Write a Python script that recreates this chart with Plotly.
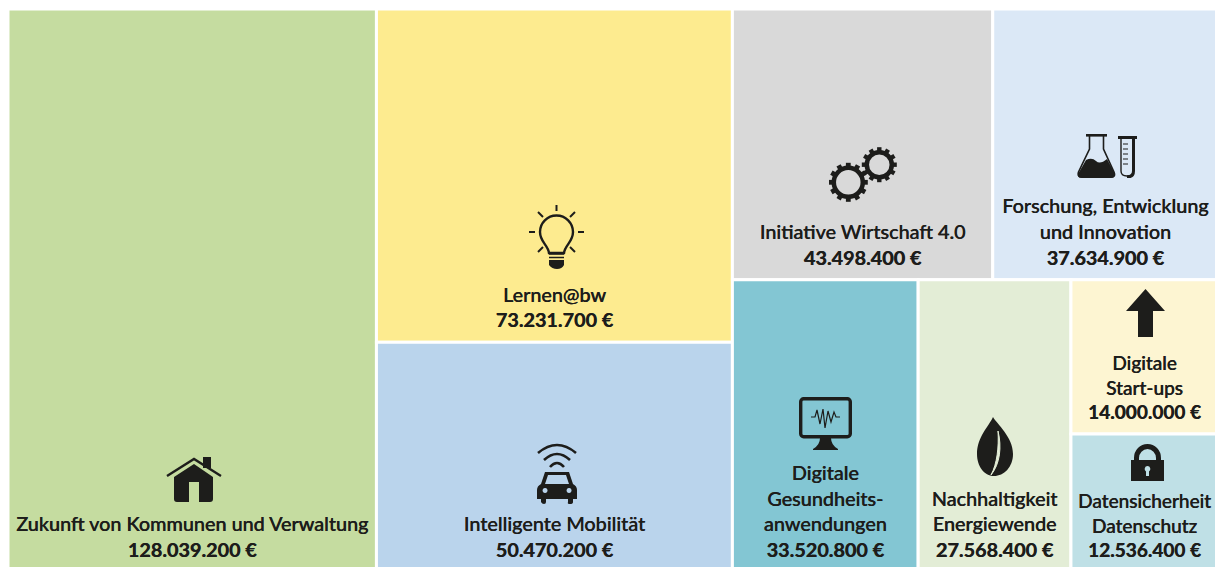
import base64
import plotly.graph_objects as go

W, H = 1218, 572  # canvas runs slightly past the 1215x567 window, as the source graphic is cropped

ids = ["root", "zukunft", "mid", "lernen", "mobil", "right", "rtop", "wirtschaft", "forschung",
       "rbot", "gesund", "energie", "small", "startups", "daten"]
parents = ["", "root", "root", "mid", "mid", "root", "right", "rtop", "rtop",
           "right", "rbot", "rbot", "rbot", "small", "small"]
leaf_values = {
    "zukunft": 128039200, "lernen": 73231700, "mobil": 50470200, "wirtschaft": 43498400,
    "forschung": 37634900, "gesund": 33520800, "energie": 27568400, "startups": 14000000,
    "daten": 12536400,
}
leaf_names = {
    "zukunft": "Zukunft von Kommunen und Verwaltung",
    "lernen": "Lernen@bw",
    "mobil": "Intelligente Mobilität",
    "wirtschaft": "Initiative Wirtschaft 4.0",
    "forschung": "Forschung, Entwicklung<br>und Innovation",
    "gesund": "Digitale<br>Gesundheits-<br>anwendungen",
    "energie": "Nachhaltigkeit<br>Energiewende",
    "startups": "Digitale<br>Start-ups",
    "daten": "Datensicherheit<br>Datenschutz",
}
leaf_colors = {
    "zukunft": "#c5dca0", "lernen": "#fdeb8f", "mobil": "#bad4ec", "wirtschaft": "#d9d9d9",
    "forschung": "#dbe8f6", "gesund": "#83c6d3", "energie": "#e3edd6", "startups": "#fdf5d2",
    "daten": "#bfe0e6",
}


def total(node):
    if node in leaf_values:
        return leaf_values[node]
    return sum(total(c) for c, p in zip(ids, parents) if p == node)


def money(v):
    return f"{v:,}".replace(",", ".") + " €"


# oversized no-break spaces enlarge the text box downward, lifting the label off the cell's bottom edge
LIFT = '<span style="font-size:58px">\u00a0</span>'
values = [total(i) for i in ids]
texts = [f"{leaf_names[i]}<br>{LIFT}<b>{money(leaf_values[i])}</b>{LIFT}" if i in leaf_values else "" for i in ids]
colors = [leaf_colors.get(i, "rgba(0,0,0,0)") for i in ids]
widths = [3 if i in leaf_values else 0 for i in ids]

fig = go.Figure(go.Treemap(
    ids=ids, labels=ids, parents=parents, values=values, text=texts,
    branchvalues="total", sort=False,
    texttemplate="%{text}", textposition="bottom center", hoverinfo="skip",
    textfont=dict(family="Lato", size=19.8, color="#1d1d1b", weight=500,
                  shadow="0.35px 0 0 #1d1d1b"),
    marker=dict(colors=colors, line=dict(color="#ffffff", width=widths),
                pad=dict(t=0, l=0, r=0, b=0), depthfade=False),
    tiling=dict(packing="slice-dice", pad=0),
    pathbar=dict(visible=False),
    domain=dict(x=[8 / W, 1], y=[0, 1 - 9 / H]),
))

INK = "#1d1d1b"
gear = ""
for cx, cy, r, hw, n in [(19.3, 35.3, 14.5, 2.4, 12), (50.3, 17.7, 12.5, 2.2, 12)]:
    gear += f'<circle cx="{cx}" cy="{cy}" r="{r}" fill="none" stroke="{INK}" stroke-width="4.5"/>'
    for k in range(n):
        a = k * 360 / n
        gear += f'<rect x="{cx - hw}" y="{cy - r - 5}" width="{2 * hw}" height="5" fill="{INK}" transform="rotate({a} {cx} {cy})"/>'

ticks = "".join(f'<path d="M46 {y}h5" stroke="{INK}" stroke-width="1"/>' for y in (10, 15, 20, 25, 30))
ray_lines = ""
for x1, y1, x2, y2 in [(27.5, 0, 27.5, 6), (9, 7, 14, 12), (46, 7, 41, 12), (0, 27, 6, 27), (49, 27, 55, 27),
                       (9, 47, 14, 42), (46, 47, 41, 42)]:
    ray_lines += f'<path d="M{x1} {y1}L{x2} {y2}" stroke="{INK}" stroke-width="2"/>'

icons = [
    (166, 457, 56, 45,
     f'<path d="M1 19L28 2L55 19" fill="none" stroke="{INK}" stroke-width="2.4"/>'
     f'<rect x="37" y="0" width="8" height="11" fill="{INK}"/>'
     f'<path d="M8 20L28 7L47 20V42q0 3-3 3H33V25H23V45H11q-3 0-3-3Z" fill="{INK}"/>'),
    (529, 205, 55, 65,
     ray_lines +
     f'<path d="M20 48C19 40 11 37 11 27A16.5 16.5 0 0 1 44 27C44 37 36 40 35 48Z" fill="none" stroke="{INK}" stroke-width="2.4"/>'
     f'<path d="M20 49h15M20 52.5h15" stroke="{INK}" stroke-width="1.5"/>'
     f'<path d="M20 55h15v5q-2 4-7 4t-8-4Z" fill="{INK}"/>'),
    (537, 443, 40, 61,
     f'<path d="M1 10Q20 -6 39 10M7 17Q20 5 33 17M13 24Q20 16 27 24" fill="none" stroke="{INK}" stroke-width="2.6"/>'
     f'<path fill-rule="evenodd" d="M8 29H32L36 41Q40 43 40 47V56H36V59Q36 61 33 61T31 59V56H9V59Q9 61 7 61T4 59V56H0V47Q0 43 4 41ZM11 32L8 41H32L29 32Z'
     f'M8 45a2.5 2.5 0 1 0 .1 0ZM32 45a2.5 2.5 0 1 0 .1 0Z" fill="{INK}"/>'),
    (829, 147, 68, 56, gear),
    (1077, 134, 60, 44,
     f'<rect x="9" y="0" width="21" height="2.6" fill="{INK}" />'
     f'<path d="M12.5 2V15L1.5 38Q0 43 5 43H34Q39 43 37 38L26.5 15V2" fill="none" stroke="{INK}" stroke-width="1.6"/>'
     f'<path d="M9 26Q15 23 19 27T30 25L38 40Q38 44 34 44H5Q0 44 1 40Z" fill="{INK}"/>'
     f'<rect x="41" y="2" width="19" height="3" fill="{INK}"/>'
     f'<path d="M44 4V37Q44 42 50 42T56 37V4" fill="none" stroke="{INK}" stroke-width="1.4"/>'
     f'<path d="M56.5 4V37Q56.5 43 50 43" fill="none" stroke="{INK}" stroke-width="3"/>' + ticks),
    (799, 397, 53, 53,
     f'<rect x="1.7" y="1.7" width="49.6" height="38" rx="3" fill="none" stroke="{INK}" stroke-width="3.4"/>'
     f'<path d="M21 41H32Q32 48 39 52V53H14V52Q21 48 21 41Z" fill="{INK}"/>'
     f'<path d="M12 20H16L18 13L21 27L24 12L26 31L29 14L32 25L35 15L37 20H41" fill="none" stroke="{INK}" stroke-width="1.2"/>'),
    (977, 417, 37, 59,
     f'<path d="M16 0C20 7 36 20 36 37C36 50 27 59 17 59C7 59 0 49 0 37C0 20 12 9 16 0Z" fill="{INK}"/>'
     f'<path d="M21 14C25 30 23 47 14 58C20 47 22 30 21 14Z" fill="#e3edd6" stroke="#e3edd6" stroke-width="1"/>'),
    (1126, 289, 39, 48,
     f'<path d="M19.5 0L39 22H27V48H12V22H0Z" fill="{INK}"/>'),
    (1131, 444, 33, 37,
     f'<path fill-rule="evenodd" d="M0 16H3V14A13.5 14 0 0 1 30 14V16H33V37H0ZM8 16H25V14A8.5 9 0 0 0 8 14ZM16.5 22a3 3 0 0 0-1.5 5.5V32H18V27.5a3 3 0 0 0-1.5-5.5Z" fill="{INK}"/>'),
]

images = []
for x, y, w, h, body in icons:
    svg = f'<svg xmlns="http://www.w3.org/2000/svg" width="{w}" height="{h}" viewBox="0 0 {w} {h}">{body}</svg>'
    uri = "data:image/svg+xml;base64," + base64.b64encode(svg.encode()).decode()
    images.append(dict(source=uri, xref="paper", yref="paper", x=x / W, y=1 - y / H,
                       sizex=w / W, sizey=h / H, xanchor="left", yanchor="top",
                       sizing="stretch", layer="above"))

fig.update_layout(width=W, height=H, margin=dict(l=0, r=0, t=0, b=0),
                  paper_bgcolor="white", images=images, showlegend=False)
fig.write_html("out.html", config={"displayModeBar": False},
               post_script="document.body.style.margin='0';document.documentElement.style.overflow='hidden';document.body.style.overflow='hidden';")
